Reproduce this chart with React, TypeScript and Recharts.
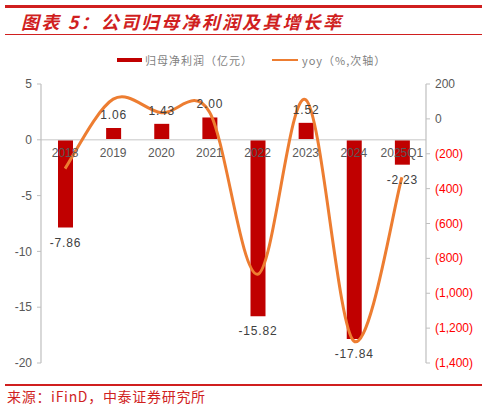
import React from "react";
import {
  ComposedChart,
  Bar,
  Line,
  XAxis,
  YAxis,
  ReferenceLine,
  LabelList,
} from "recharts";

const categories = ["2018", "2019", "2020", "2021", "2022", "2023", "2024", "2025Q1"];
const profit = [-7.86, 1.06, 1.43, 2.0, -15.82, 1.52, -17.84, -2.23];
const yoy = [-285, 113, 35, 40, -891, 110, -1274, -335];
const leftTicks = [5, 0, -5, -10, -15, -20];
const rightTicks = [200, 0, -200, -400, -600, -800, -1000, -1200, -1400];

const data = categories.map((c, i) => ({ name: c, profit: profit[i], yoy: yoy[i] }));

const RED = "#c00000";
const ORANGE = "#ed7d31";
const GRAY = "#595959";
const FONT = "'Liberation Sans', Arial, 'Noto Sans CJK SC', sans-serif";

const CHART_W = 487;
const CHART_H = 407;
const TOP = 84;
const XAXIS_H = 44;
const PLOT_H = CHART_H - TOP - XAXIS_H;
const ZERO_Y = TOP + (PLOT_H * 5) / 25;

// Excel-like smooth curve (Catmull-Rom / cardinal tension 0)
function smoothCurve(context: any) {
  let pts: [number, number][] = [];
  return {
    areaStart() {},
    areaEnd() {},
    lineStart() {
      pts = [];
    },
    lineEnd() {
      const n = pts.length;
      if (n === 0) return;
      context.moveTo(pts[0][0], pts[0][1]);
      for (let i = 0; i < n - 1; i++) {
        const p0 = pts[i - 1] || pts[i];
        const p1 = pts[i];
        const p2 = pts[i + 1];
        const p3 = pts[i + 2] || p2;
        context.bezierCurveTo(
          p1[0] + (p2[0] - p0[0]) / 6,
          p1[1] + (p2[1] - p0[1]) / 6,
          p2[0] - (p3[0] - p1[0]) / 6,
          p2[1] - (p3[1] - p1[1]) / 6,
          p2[0],
          p2[1]
        );
      }
    },
    point(x: number, y: number) {
      pts.push([+x, +y]);
    },
  };
}

const fmtRight = (v: number) => {
  if (v < 0) return `(${Math.abs(v).toLocaleString("en-US")})`;
  return `${v}`;
};

const RightTick = (props: any) => {
  const { x, y, payload } = props;
  const v = payload.value;
  return (
    <text
      x={x}
      y={y}
      dy={4}
      textAnchor="start"
      fontSize={12}
      fontFamily={FONT}
      fill={v < 0 ? "#ff0000" : GRAY}
    >
      {fmtRight(v)}
    </text>
  );
};

const CatTick = (props: any) => {
  const { x, payload } = props;
  return (
    <text
      x={x}
      y={ZERO_Y + 17}
      textAnchor="middle"
      fontSize={12}
      fontFamily={FONT}
      fill={GRAY}
    >
      {payload.value}
    </text>
  );
};

const BarLabel = (props: any) => {
  const { x, y, width, height, value } = props;
  const cx = x + width / 2;
  const top = Math.min(y, y + height);
  const bottom = Math.max(y, y + height);
  const ty = value >= 0 ? top - 9 : bottom + 19;
  return (
    <text
      x={cx}
      y={ty}
      textAnchor="middle"
      fontSize={12}
      fontFamily={FONT}
      fill="#404040"
      letterSpacing={0.8}
    >
      {value.toFixed(2)}
    </text>
  );
};

export default function App() {
  return (
    <div
      style={{
        position: "absolute",
        left: 0,
        top: 0,
        width: CHART_W,
        height: CHART_H,
        background: "#fff",
        overflow: "hidden",
      }}
    >
      <div style={{ position: "absolute", left: 5, top: 5, width: 477, height: 2.5, background: "#d01f1f" }} />
      <div
        style={{
          position: "absolute",
          left: 21,
          top: 9,
          fontSize: 18,
          fontWeight: 700,
          fontStyle: "italic",
          color: "#d01f1f",
          letterSpacing: 2.2,
          fontFamily: "'Noto Sans CJK SC', sans-serif",
          lineHeight: "24px",
          whiteSpace: "nowrap",
        }}
      >
        图表 5：公司归母净利润及其增长率
      </div>
      <div style={{ position: "absolute", left: 5, top: 34, width: 477, height: 1, background: "#d01f1f" }} />

      <div style={{ position: "absolute", left: 117, top: 58, width: 25, height: 4, background: RED }} />
      <div
        style={{
          position: "absolute",
          left: 145,
          top: 52,
          fontSize: 11,
          color: "#7f7f7f",
          fontFamily: "'Noto Sans CJK SC', sans-serif",
          lineHeight: "16px",
          whiteSpace: "nowrap",
          letterSpacing: 1,
        }}
      >
        归母净利润（亿元）
      </div>
      <div style={{ position: "absolute", left: 272, top: 58.5, width: 26, height: 2.5, background: ORANGE }} />
      <div
        style={{
          position: "absolute",
          left: 302,
          top: 52,
          fontSize: 11,
          color: "#7f7f7f",
          fontFamily: "'Noto Sans CJK SC', sans-serif",
          lineHeight: "16px",
          whiteSpace: "nowrap",
          letterSpacing: 1,
        }}
      >
        yoy（%,次轴）
      </div>

      <div style={{ position: "absolute", left: 0, top: 0 }}>
        <ComposedChart
          width={CHART_W}
          height={CHART_H}
          data={data}
          margin={{ top: TOP, right: 0, bottom: 0, left: 0 }}
        >
          <XAxis
            dataKey="name"
            height={XAXIS_H}
            axisLine={false}
            tickLine={false}
            tick={<CatTick />}
            interval={0}
          />
          <YAxis
            yAxisId="left"
            width={41}
            domain={[-20, 5]}
            ticks={leftTicks}
            interval={0}
            tick={{ fontSize: 12, fill: GRAY, fontFamily: FONT }}
            tickSize={4}
            tickMargin={5}
            axisLine={{ stroke: "#bfbfbf", strokeWidth: 1.2 }}
            tickLine={{ stroke: "#bfbfbf" }}
          />
          <YAxis
            yAxisId="right"
            orientation="right"
            width={61}
            domain={[-1400, 200]}
            ticks={rightTicks}
            interval={0}
            tick={<RightTick />}
            tickSize={4}
            tickMargin={5}
            axisLine={{ stroke: "#bfbfbf", strokeWidth: 1.2 }}
            tickLine={{ stroke: "#bfbfbf" }}
          />
          <ReferenceLine yAxisId="left" y={0} stroke="#d9d9d9" strokeWidth={1.5} />
          <Bar yAxisId="left" dataKey="profit" fill={RED} barSize={15} isAnimationActive={false}>
            <LabelList dataKey="profit" content={<BarLabel />} />
          </Bar>
          <Line
            yAxisId="right"
            dataKey="yoy"
            type={smoothCurve as any}
            stroke={ORANGE}
            strokeWidth={3}
            dot={false}
            activeDot={false}
            isAnimationActive={false}
          />
        </ComposedChart>
      </div>

      <div style={{ position: "absolute", left: 5, top: 384, width: 477, height: 1.5, background: "#d01f1f" }} />
      <div
        style={{
          position: "absolute",
          left: 7,
          top: 387,
          fontSize: 14,
          color: "#d01f1f",
          fontFamily: "'Noto Sans CJK SC', sans-serif",
          lineHeight: "18px",
          whiteSpace: "nowrap",
          letterSpacing: 0.7,
        }}
      >
        来源：iFinD，中泰证券研究所
      </div>
    </div>
  );
}
